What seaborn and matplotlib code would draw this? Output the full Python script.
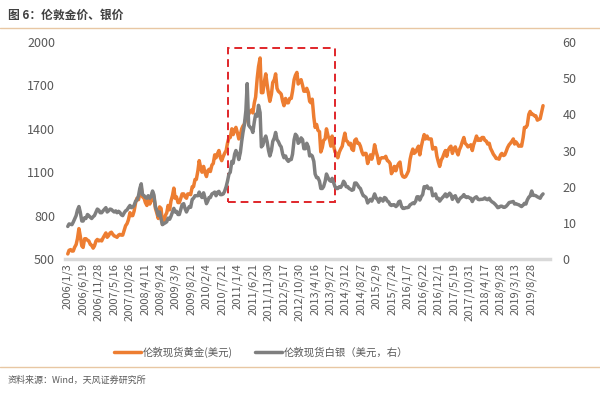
import matplotlib
matplotlib.use("Agg")
import matplotlib.pyplot as plt
import matplotlib.dates as mdates
from matplotlib.lines import Line2D
from matplotlib.patches import Rectangle
import pandas as pd
import seaborn as sns

# semi-monthly readings (1st / mid month)
gold_2006 = [535, 560, 565, 555, 555, 580, 600, 640, 710, 660, 590, 580, 640, 640, 630, 625, 600, 595, 575, 590, 625, 635, 625, 630]
gold_2007 = [625, 645, 665, 680, 650, 660, 680, 685, 670, 660, 655, 650, 665, 670, 665, 665, 700, 730, 745, 770, 820, 800, 800, 830]
gold_2008 = [890, 920, 910, 950, 995, 930, 920, 890, 870, 910, 880, 900, 960, 930, 850, 820, 780, 860, 850, 740, 750, 800, 820, 870]
gold_2009 = [840, 900, 940, 990, 920, 930, 890, 890, 920, 950, 950, 930, 920, 950, 950, 945, 1000, 1000, 1050, 1050, 1110, 1180, 1130, 1100]
gold_2010 = [1140, 1100, 1070, 1110, 1120, 1105, 1150, 1160, 1220, 1200, 1230, 1250, 1200, 1180, 1210, 1230, 1250, 1300, 1340, 1340, 1400, 1360, 1390, 1410]
gold_2011 = [1370, 1330, 1360, 1400, 1420, 1430, 1470, 1510, 1500, 1520, 1530, 1510, 1580, 1620, 1750, 1830, 1890, 1650, 1650, 1720, 1780, 1710, 1640, 1590]
gold_2012 = [1640, 1720, 1740, 1780, 1680, 1660, 1650, 1640, 1590, 1560, 1610, 1580, 1580, 1610, 1610, 1660, 1740, 1770, 1790, 1710, 1730, 1740, 1700, 1660]
gold_2013 = [1660, 1680, 1650, 1590, 1580, 1605, 1480, 1410, 1430, 1390, 1380, 1240, 1270, 1320, 1330, 1400, 1350, 1330, 1280, 1350, 1280, 1240, 1230, 1200]
gold_2014 = [1240, 1260, 1280, 1330, 1370, 1320, 1310, 1290, 1300, 1260, 1250, 1320, 1330, 1300, 1300, 1280, 1240, 1220, 1230, 1230, 1160, 1190, 1220, 1190]
gold_2015 = [1230, 1290, 1240, 1210, 1160, 1190, 1200, 1200, 1200, 1210, 1180, 1175, 1160, 1090, 1110, 1140, 1110, 1140, 1160, 1170, 1090, 1070, 1065, 1070]
gold_2016 = [1090, 1110, 1190, 1230, 1260, 1230, 1240, 1260, 1280, 1220, 1280, 1320, 1360, 1330, 1350, 1330, 1330, 1330, 1260, 1270, 1270, 1210, 1170, 1140]
gold_2017 = [1185, 1200, 1230, 1250, 1210, 1250, 1270, 1280, 1230, 1260, 1275, 1245, 1220, 1255, 1280, 1310, 1340, 1300, 1290, 1275, 1280, 1290, 1250, 1290]
gold_2018 = [1320, 1350, 1320, 1330, 1320, 1340, 1340, 1320, 1315, 1295, 1300, 1265, 1245, 1225, 1210, 1195, 1195, 1190, 1220, 1230, 1215, 1220, 1245, 1270]
gold_2019 = [1290, 1300, 1315, 1330, 1295, 1310, 1295, 1280, 1285, 1280, 1340, 1410, 1410, 1425, 1500, 1520, 1500, 1500, 1490, 1490, 1460, 1465, 1470, 1510]
gold_2020 = [1560]

silver_2006 = [9.0, 9.7, 9.6, 9.5, 10.2, 11.0, 12.0, 13.5, 14.5, 13.0, 10.5, 10.5, 11.4, 11.2, 12.3, 12.0, 11.5, 11.2, 11.7, 12.0, 13.0, 13.8, 13.5, 12.8]
silver_2007 = [12.8, 13.3, 13.8, 14.2, 13.0, 13.3, 13.8, 13.7, 13.3, 13.0, 13.3, 12.8, 13.2, 12.9, 12.2, 12.0, 12.8, 13.3, 13.6, 14.2, 14.8, 14.2, 14.4, 14.8]
silver_2008 = [16.0, 16.3, 17.5, 19.5, 20.8, 17.8, 17.5, 17.0, 16.8, 17.5, 16.8, 17.3, 18.8, 17.8, 14.5, 13.5, 12.0, 13.0, 11.0, 9.5, 9.8, 10.0, 10.3, 11.3]
silver_2009 = [11.0, 11.8, 13.0, 14.0, 13.0, 13.2, 12.3, 12.3, 13.8, 15.0, 15.3, 14.0, 13.0, 13.8, 14.5, 14.3, 16.5, 16.8, 17.5, 17.5, 17.5, 18.5, 17.5, 17.0]
silver_2010 = [18.3, 17.0, 15.3, 16.0, 17.0, 17.0, 18.0, 18.2, 18.5, 17.5, 18.5, 18.7, 17.8, 17.8, 18.0, 18.7, 20.0, 21.5, 23.5, 24.0, 27.0, 26.5, 29.0, 30.0]
silver_2011 = [29.0, 27.5, 29.5, 32.5, 35.0, 37.0, 41.0, 48.5, 37.0, 36.5, 36.0, 35.0, 38.0, 40.0, 39.5, 42.5, 40.5, 31.0, 31.5, 33.0, 34.0, 32.5, 30.0, 28.5]
silver_2012 = [30.0, 32.5, 33.5, 35.0, 33.0, 32.5, 31.5, 31.0, 29.0, 28.0, 28.5, 27.5, 27.0, 27.5, 27.5, 29.0, 33.0, 34.5, 34.0, 32.0, 32.5, 33.5, 33.0, 30.5]
silver_2013 = [30.5, 32.0, 31.0, 28.5, 28.8, 28.5, 27.0, 23.5, 22.5, 22.5, 21.5, 19.5, 19.5, 20.0, 21.5, 23.5, 22.5, 21.8, 21.5, 22.3, 21.0, 20.0, 19.5, 19.5]
silver_2014 = [20.0, 19.8, 20.5, 21.5, 21.0, 20.0, 20.0, 19.5, 19.3, 19.0, 19.2, 21.0, 21.0, 20.5, 19.8, 19.5, 18.3, 17.5, 17.3, 17.0, 15.5, 16.0, 16.5, 16.0]
silver_2015 = [17.0, 18.0, 16.8, 16.5, 15.7, 16.8, 16.5, 16.0, 17.0, 16.8, 16.0, 15.8, 15.0, 14.8, 15.0, 15.0, 14.5, 14.8, 15.8, 16.0, 14.5, 14.0, 14.0, 14.2]
silver_2016 = [14.2, 14.3, 15.0, 15.2, 15.5, 15.3, 16.0, 17.2, 17.2, 16.3, 17.3, 17.8, 20.0, 19.7, 20.2, 19.5, 19.5, 19.6, 17.5, 17.6, 18.0, 16.7, 16.8, 16.0]
silver_2017 = [16.6, 17.0, 17.5, 18.0, 17.2, 17.6, 18.2, 17.8, 16.5, 17.2, 17.5, 16.6, 15.8, 16.5, 17.0, 17.2, 17.8, 17.2, 17.0, 17.2, 16.9, 16.8, 15.9, 16.6]
silver_2018 = [17.0, 17.2, 16.5, 16.4, 16.5, 16.5, 16.6, 16.9, 16.5, 16.4, 16.8, 16.2, 15.8, 15.6, 15.2, 14.8, 14.2, 14.3, 14.6, 14.6, 14.3, 14.3, 14.6, 15.0]
silver_2019 = [15.6, 15.7, 15.8, 15.9, 15.2, 15.3, 15.1, 15.0, 14.7, 14.5, 14.9, 15.4, 15.2, 16.3, 17.1, 17.4, 18.8, 17.6, 17.6, 17.5, 17.2, 17.0, 16.8, 17.5]
silver_2020 = [18.0]

gold = (gold_2006 + gold_2007 + gold_2008 + gold_2009 + gold_2010 + gold_2011 + gold_2012
        + gold_2013 + gold_2014 + gold_2015 + gold_2016 + gold_2017 + gold_2018 + gold_2019 + gold_2020)
silver = (silver_2006 + silver_2007 + silver_2008 + silver_2009 + silver_2010 + silver_2011 + silver_2012
          + silver_2013 + silver_2014 + silver_2015 + silver_2016 + silver_2017 + silver_2018 + silver_2019 + silver_2020)

tick_labels = ["2006/1/3", "2006/6/19", "2006/11/28", "2007/5/16", "2007/10/26", "2008/4/11",
               "2008/9/24", "2009/3/9", "2009/8/21", "2010/2/4", "2010/7/21", "2011/1/4",
               "2011/6/21", "2011/11/30", "2012/5/17", "2012/10/30", "2013/4/16", "2013/9/27",
               "2014/3/12", "2014/8/27", "2015/2/9", "2015/7/24", "2016/1/7", "2016/6/22",
               "2016/12/1", "2017/5/19", "2017/10/31", "2018/4/17", "2018/9/28", "2019/3/13",
               "2019/8/28"]

# boxed period and gold range of the dashed frame
box_start, box_end = "2010-09-20", "2013-11-14"
box_low, box_high = 894, 1958

gold_label = "伦敦现货黄金(美元)"
silver_label = "伦敦现货白银（美元，右）"

# one reading per half month, starting 2006-01-03
dates = pd.date_range("2006-01-01", periods=len(gold), freq="SMS") + pd.Timedelta(days=2)
df = pd.DataFrame({"date": dates, "gold": gold})
df_s = pd.DataFrame({"date": dates[:len(silver)], "silver": silver})

sns.set_style("white")
plt.rcParams["font.family"] = ["Noto Sans CJK SC", "DejaVu Sans"]

ORANGE = "#ED7D31"
GRAY = "#7F7F7F"
TXT = "#595959"

fig = plt.figure(figsize=(6, 3.93), dpi=100)
ax = fig.add_axes([0.108, 0.341, 0.809, 0.552])
ax2 = ax.twinx()

sns.lineplot(data=df, x="date", y="gold", ax=ax, color=ORANGE, linewidth=2.5)
sns.lineplot(data=df_s, x="date", y="silver", ax=ax2, color=GRAY, linewidth=2.5)

ax.set_ylim(500, 2000)
ax.set_yticks(range(500, 2001, 300))
ax2.set_ylim(0, 60)
ax2.set_yticks(range(0, 61, 10))
ax.set_xlim(pd.Timestamp("2005-12-02"), pd.Timestamp("2020-03-20"))

tick_dates = pd.to_datetime(tick_labels, format="%Y/%m/%d")
ax.set_xticks(tick_dates)
ax.set_xticklabels(tick_labels, rotation=90)

for a in (ax, ax2):
    a.set_xlabel("")
    a.set_ylabel("")
    for s in a.spines.values():
        s.set_visible(False)
    a.tick_params(length=0, labelcolor=TXT)
ax.spines["bottom"].set_visible(True)
ax.spines["bottom"].set_color("#D9D9D9")
ax.spines["bottom"].set_linewidth(2.5)
ax.tick_params(axis="x", labelsize=8, pad=3)
ax.tick_params(axis="y", labelsize=9, pad=7)
ax2.tick_params(axis="y", labelsize=9, pad=9)

x0 = mdates.date2num(pd.Timestamp(box_start))
x1 = mdates.date2num(pd.Timestamp(box_end))
ax.add_patch(Rectangle((x0, box_low), x1 - x0, box_high - box_low, fill=False,
                       edgecolor="#E0262A", linewidth=1.4, linestyle=(0, (4, 2.5)),
                       zorder=5, clip_on=False))

handles = [Line2D([], [], color=ORANGE, linewidth=2.5), Line2D([], [], color=GRAY, linewidth=2.5)]
fig.legend(handles, [gold_label, silver_label], loc="center", bbox_to_anchor=(0.435, 1 - 352 / 393),
           ncol=2, frameon=False, fontsize=7.5, handlelength=2.6, columnspacing=2.2,
           handletextpad=0.1, labelcolor=TXT)

fig.text(0.013, 1 - 15 / 393, "图 6：伦敦金价、银价", fontsize=8.5, fontweight="bold",
         color="#404040", va="center")
fig.add_artist(Line2D([0, 1], [1 - 28 / 393] * 2, transform=fig.transFigure, color="#E8C7A3", linewidth=1))
fig.add_artist(Line2D([0, 1], [1 - 367 / 393] * 2, transform=fig.transFigure, color="#E8C7A3", linewidth=1))
fig.text(0.013, 1 - 380 / 393, "资料来源：Wind，天风证券研究所", fontsize=6.5, color=TXT, va="center")

fig.savefig("out.png", dpi=100)
